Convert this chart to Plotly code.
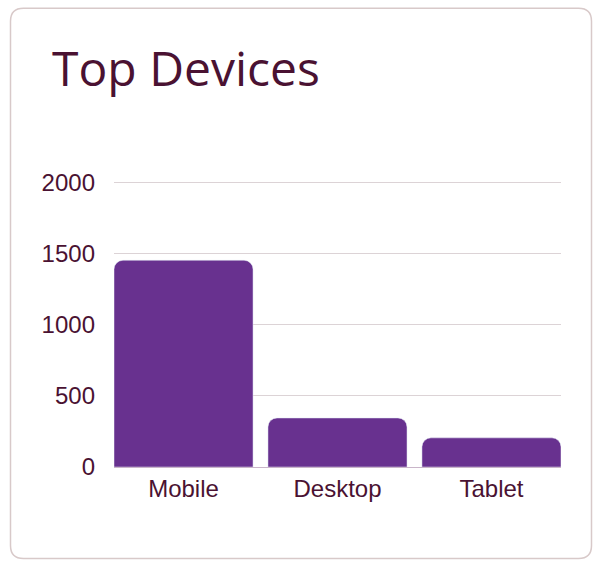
import plotly.graph_objects as go

categories = ["Mobile", "Desktop", "Tablet"]
values = [1455, 345, 205]
y_ticks = [0, 500, 1000, 1500, 2000]
y_max = 2020

W, H = 595, 563
L, R, B = 114, 34, 96
px_per_unit = 284 / 2000
T = H - B - px_per_unit * y_max
pw, ph = W - L - R, H - T - B

def px(x):
    return (x - L) / pw

def py(y):
    return (H - B - y) / ph

# card with rounded corners (pixel coords -> paper)
x0, x1, y0, y1, r = 10.5, 591.5, 8.5, 558.5, 13
path = (
    f"M {px(x0 + r)},{py(y0)} L {px(x1 - r)},{py(y0)} "
    f"Q {px(x1)},{py(y0)} {px(x1)},{py(y0 + r)} "
    f"L {px(x1)},{py(y1 - r)} Q {px(x1)},{py(y1)} {px(x1 - r)},{py(y1)} "
    f"L {px(x0 + r)},{py(y1)} Q {px(x0)},{py(y1)} {px(x0)},{py(y1 - r)} "
    f"L {px(x0)},{py(y0 + r)} Q {px(x0)},{py(y0)} {px(x0 + r)},{py(y0)} Z"
)

text_color = "#4a1232"
gap = 0.097

fig = go.Figure(
    go.Bar(
        x=categories,
        y=values,
        marker=dict(color="#68318f", cornerradius=9),
        hoverinfo="skip",
    )
)

fig.update_layout(
    width=W,
    height=H,
    margin=dict(l=L, r=R, t=T, b=B),
    paper_bgcolor="white",
    plot_bgcolor="white",
    bargap=gap,
    showlegend=False,
    title=dict(
        text="Top Devices",
        x=52 / W,
        xanchor="left",
        xref="container",
        y=1 - 52 / H,
        yanchor="top",
        yref="container",
        font=dict(family="Open Sans", size=48, color=text_color, weight=400),
    ),
    shapes=[
        dict(
            type="path",
            path=path,
            xref="paper",
            yref="paper",
            line=dict(color="#d8c9c9", width=1.5),
            fillcolor="rgba(0,0,0,0)",
            layer="below",
        )
    ],
    xaxis=dict(
        range=[-0.5 + gap / 2, 2.5 - gap / 2],
        showgrid=False,
        showline=False,
        ticks="",
        tickfont=dict(family="Liberation Sans, Arial", size=24, color=text_color),
        ticklabelstandoff=5,
    ),
    yaxis=dict(
        range=[0, y_max],
        tickvals=y_ticks,
        showgrid=True,
        gridcolor="#dcd3d6",
        gridwidth=1,
        zeroline=True,
        zerolinecolor="#c9b5c9",
        zerolinewidth=1,
        showline=False,
        ticks="",
        tickfont=dict(family="Liberation Sans, Arial", size=24, color=text_color),
        ticklabelstandoff=18,
    ),
)

fig.write_html("out.html")
